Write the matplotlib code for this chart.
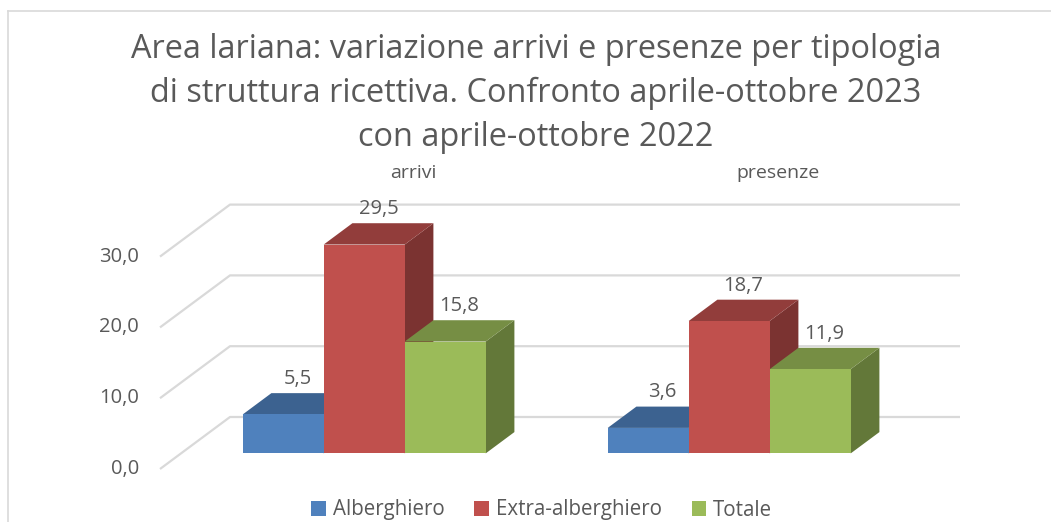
import matplotlib
matplotlib.use('Agg')
import matplotlib.pyplot as plt
from matplotlib.patches import Polygon, Patch
from matplotlib.lines import Line2D
import numpy as np

plt.rcParams['font.family'] = ['Open Sans', 'DejaVu Sans']

# dati
categorie = ['arrivi', 'presenze']
serie = ['Alberghiero', 'Extra-alberghiero', 'Totale']
alberghiero = [5.5, 3.6]
extra_alberghiero = [29.5, 18.7]
totale = [15.8, 11.9]
tick_valori = [0, 10, 20, 30]
titolo = ['Area lariana: variazione arrivi e presenze per tipologia',
          'di struttura ricettiva. Confronto aprile-ottobre 2023',
          'con aprile-ottobre 2022']

colori = ['#4F81BD', '#C0504D', '#9BBB59']
grigio_testo = '#595959'
grigio_linee = '#D9D9D9'


def scurisci(c, f):
    r, g, b = matplotlib.colors.to_rgb(c)
    return (r * f, g * f, b * f)


W, H = 1051, 522
fig = plt.figure(figsize=(W / 100, H / 100), dpi=100)
ax = fig.add_axes([0, 0, 1, 1])
ax.set_axis_off()

# geometria "3D" (unità: categorie in x, valori in y)
px_cat = 365.0      # pixel per categoria
px_val = 7.08       # pixel per unità di valore
x0_pix = 343.2      # posizione pixel della categoria 0 sul fronte
y0_pix = 469.0      # pixel del valore 0 sul fronte
ax.set_xlim(-x0_pix / px_cat, (W - x0_pix) / px_cat)
ax.set_ylim(-(H - y0_pix) / px_val, y0_pix / px_val)

DX = 70 / px_cat    # spostamento in profondità
DY = 52 / px_val
d0, d1 = 0.30, 0.71
larg = 81 / px_cat
griglia_sx = (160 - x0_pix) / px_cat
griglia_dx = (960 - x0_pix) / px_cat - DX


def P(x, v, d):
    return (x + d * DX, v + d * DY)


# griglia
for t in tick_valori:
    xs = [griglia_sx, griglia_sx + DX, griglia_dx + DX]
    ys = [t, t + DY, t + DY]
    ax.plot(xs, ys, color=grigio_linee, lw=1.6, solid_capstyle='butt', zorder=1)
    ax.text(griglia_sx - 21 / px_cat, t, f'{t:.1f}'.replace('.', ','),
            ha='right', va='center', fontsize=14.5, color=grigio_testo)

# barre
valori = [alberghiero, extra_alberghiero, totale]
for k, cat in enumerate(categorie):
    for j, s in enumerate(serie):
        v = valori[j][k]
        xc = k + (j - 1) * larg
        xl, xr = xc - larg / 2, xc + larg / 2
        fronte = [P(xl, 0, d0), P(xr, 0, d0), P(xr, v, d0), P(xl, v, d0)]
        sopra = [P(xl, v, d0), P(xr, v, d0), P(xr, v, d1), P(xl, v, d1)]
        lato = [P(xr, 0, d0), P(xr, 0, d1), P(xr, v, d1), P(xr, v, d0)]
        z = 2 + k * 10 + j
        ax.add_patch(Polygon(lato, closed=True, fc=scurisci(colori[j], 0.64),
                             ec='none', zorder=z))
        ax.add_patch(Polygon(sopra, closed=True, fc=scurisci(colori[j], 0.76),
                             ec='none', zorder=z))
        ax.add_patch(Polygon(fronte, closed=True, fc=colori[j], ec='none',
                             zorder=z))
        lx, ly = P(xc, v, (d0 + d1) / 2)
        ax.text(lx, v + d1 * DY + 2.0, f'{v:.1f}'.replace('.', ','),
                ha='center', va='center', fontsize=14.5, color=grigio_testo,
                zorder=50)
    # etichetta categoria
    ax.text(k + DX, max(tick_valori) + DY + 4.5, cat, ha='center',
            va='center', fontsize=14, color=grigio_testo)

# titolo
righe = []
for i, riga in enumerate(titolo):
    t = fig.text(536 / W, 1 - [58, 102, 146][i] / H, riga, ha='center',
                 va='baseline', fontsize=20, color=grigio_testo)
    righe.append(t)
fig.canvas.draw()
larghezza = righe[0].get_window_extent().width
for t in righe:
    t.set_fontsize(20 * 813 / larghezza)

# legenda
maniglie = [Patch(fc=c, ec='none') for c in colori]
fig.legend(maniglie, serie, loc='center', bbox_to_anchor=(541.8 / W, 1 - 510 / H),
           ncol=3, frameon=False, fontsize=14.8, handlelength=0.7,
           handleheight=0.7, handletextpad=0.35, columnspacing=1.45,
           labelcolor=grigio_testo)

# cornice
fig.add_artist(Line2D([8 / W, 8 / W], [0, 1 - 11 / H], color=grigio_linee, lw=1.2))
fig.add_artist(Line2D([8 / W, 1], [1 - 11 / H, 1 - 11 / H], color=grigio_linee, lw=1.2))

fig.savefig('out.png', dpi=100)
